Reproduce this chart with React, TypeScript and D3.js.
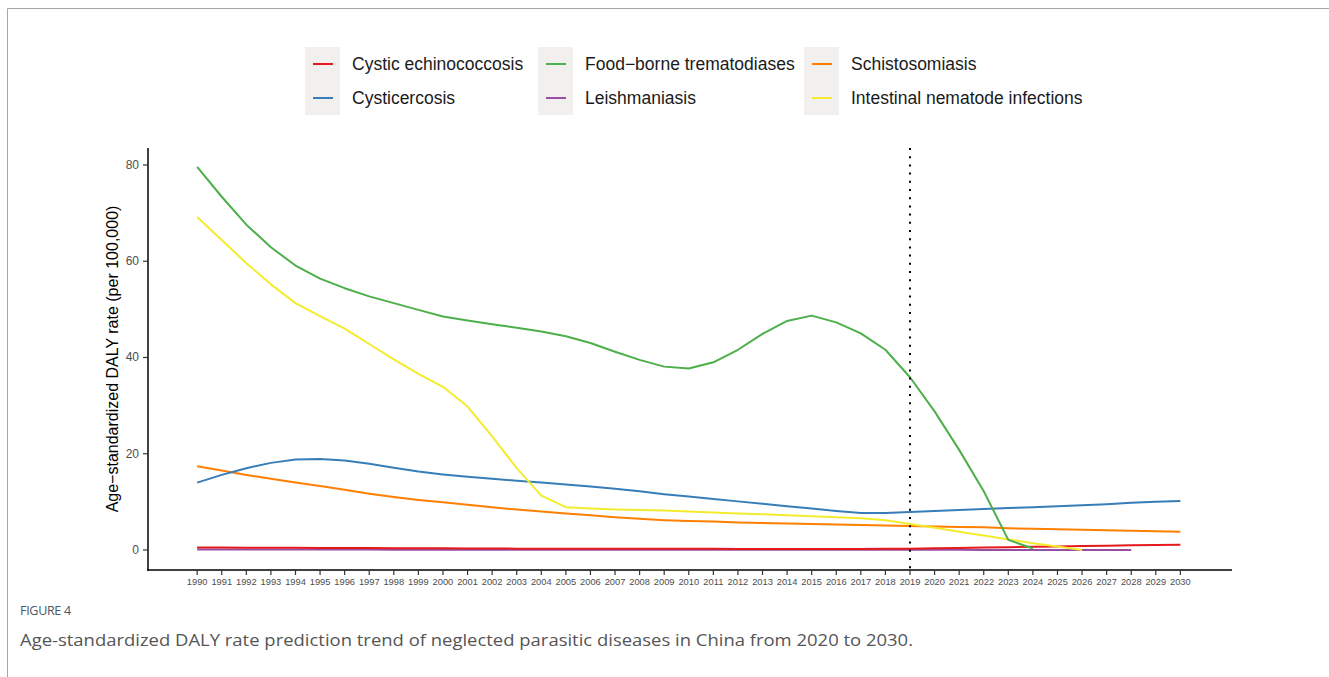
import * as d3 from 'd3';

const years = [
  1990, 1991, 1992, 1993, 1994, 1995, 1996, 1997, 1998, 1999,
  2000, 2001, 2002, 2003, 2004, 2005, 2006, 2007, 2008, 2009,
  2010, 2011, 2012, 2013, 2014, 2015, 2016, 2017, 2018, 2019,
  2020, 2021, 2022, 2023, 2024, 2025, 2026, 2027, 2028, 2029, 2030,
];

// one value per year, null = not drawn
const cysticEchinococcosis = [
  0.5, 0.5, 0.48, 0.46, 0.45, 0.43, 0.42, 0.4, 0.38, 0.36,
  0.34, 0.32, 0.3, 0.28, 0.27, 0.26, 0.25, 0.25, 0.24, 0.24,
  0.23, 0.23, 0.22, 0.22, 0.21, 0.21, 0.21, 0.22, 0.24, 0.28,
  0.34, 0.42, 0.5, 0.58, 0.66, 0.74, 0.82, 0.9, 0.97, 1.04, 1.1,
];
const cysticercosis = [
  14.0, 15.6, 17.0, 18.1, 18.8, 18.9, 18.6, 17.9, 17.1, 16.3,
  15.7, 15.2, 14.8, 14.4, 14.0, 13.6, 13.2, 12.7, 12.2, 11.6,
  11.1, 10.6, 10.1, 9.6, 9.1, 8.6, 8.1, 7.7, 7.7, 7.9,
  8.1, 8.3, 8.5, 8.7, 8.9, 9.1, 9.3, 9.5, 9.8, 10.0, 10.2,
];
const foodborne = [
  79.6, 73.4, 67.6, 62.9, 59.1, 56.4, 54.4, 52.7, 51.3, 49.9,
  48.5, 47.7, 46.9, 46.2, 45.4, 44.4, 43.0, 41.2, 39.5, 38.1,
  37.7, 39.0, 41.6, 44.9, 47.6, 48.7, 47.3, 45.0, 41.6, 35.9,
  28.8, 20.8, 12.2, 2.1, 0.3, null, null, null, null, null, null,
];
const leishmaniasis = [
  0.12, 0.11, 0.1, 0.1, 0.09, 0.09, 0.08, 0.08, 0.07, 0.07,
  0.07, 0.06, 0.06, 0.06, 0.05, 0.05, 0.05, 0.05, 0.05, 0.04,
  0.04, 0.04, 0.04, 0.04, 0.04, 0.03, 0.03, 0.03, 0.03, 0.03,
  0.03, 0.03, 0.02, 0.02, 0.02, 0.02, 0.02, 0.02, 0.02, null, null,
];
const schistosomiasis = [
  17.4, 16.5, 15.6, 14.8, 14.0, 13.3, 12.5, 11.7, 11.0, 10.4,
  9.9, 9.4, 8.9, 8.4, 8.0, 7.6, 7.2, 6.8, 6.5, 6.2,
  6.0, 5.9, 5.7, 5.6, 5.5, 5.4, 5.3, 5.2, 5.1, 5.0,
  4.9, 4.8, 4.7, 4.5, 4.4, 4.3, 4.2, 4.1, 4.0, 3.9, 3.8,
];
const intestinalNematode = [
  69.2, 64.4, 59.6, 55.2, 51.3, 48.6, 46.0, 42.8, 39.6, 36.6,
  33.9, 29.8, 23.6, 17.0, 11.3, 8.9, 8.6, 8.4, 8.3, 8.2,
  8.0, 7.8, 7.6, 7.4, 7.2, 7.0, 6.8, 6.6, 6.2, 5.4,
  4.6, 3.8, 3.0, 2.2, 1.4, 0.7, 0.0, null, null, null, null,
];

const seriesNames = [
  'Cystic echinococcosis',
  'Cysticercosis',
  'Food\u2212borne trematodiases',
  'Leishmaniasis',
  'Schistosomiasis',
  'Intestinal nematode infections',
];
const seriesValues = [
  cysticEchinococcosis,
  cysticercosis,
  foodborne,
  leishmaniasis,
  schistosomiasis,
  intestinalNematode,
];
const seriesColors = ['#E41A1C', '#377EB8', '#4DAF4A', '#984EA3', '#FF7F00', '#F5EB2E'];
// drawing order (bottom first)
const drawOrder = [3, 0, 4, 1, 5, 2];

const yTicks = [0, 20, 40, 60, 80];
const cutYear = 2019;

const W = 1329;
const H = 677;
const plot = { left: 148, right: 1232, top: 148, bottom: 570 };

export default function App() {
  const x = d3.scaleLinear().domain([1988, 2032.1]).range([plot.left, plot.right]);
  const y = d3.scaleLinear().domain([-4.16, 83.53]).range([plot.bottom, plot.top]);

  const line = d3
    .line<[number, number | null]>()
    .defined(d => d[1] !== null)
    .x(d => x(d[0]))
    .y(d => y(d[1] as number));

  const legendCols = [305, 538, 804];
  const legendRows = [64, 98];

  return (
    <div style={{ position: 'absolute', left: 0, top: 0, background: '#fff' }}>
      <svg width={W} height={H} style={{ display: 'block', fontFamily: '"Liberation Sans", Arial, sans-serif' }}>
        <rect x={0} y={0} width={W} height={H} fill="#fff" />
        {/* page frame */}
        <line x1={7.5} y1={8.5} x2={W} y2={8.5} stroke="#a6a6a6" strokeWidth={1} />
        <line x1={7.5} y1={8.5} x2={7.5} y2={H} stroke="#a6a6a6" strokeWidth={1} />

        {/* legend */}
        {seriesNames.map((name, i) => {
          const col = Math.floor(i / 2);
          const row = i % 2;
          const kx = legendCols[col];
          const ky = legendRows[row];
          return (
            <g key={name}>
              <rect x={kx} y={ky - 17} width={35} height={34} fill="#F2F0EF" />
              <line x1={kx + 8} x2={kx + 28} y1={ky} y2={ky} stroke={seriesColors[i]} strokeWidth={2} />
              <text x={kx + 47} y={ky} dominantBaseline="central" fontSize={17.5} fill="#1a1a1a">
                {name}
              </text>
            </g>
          );
        })}

        {/* series */}
        {drawOrder.map(i => (
          <path
            key={seriesNames[i]}
            d={line(years.map((yr, k) => [yr, seriesValues[i][k]] as [number, number | null])) || ''}
            fill="none"
            stroke={seriesColors[i]}
            strokeWidth={2}
            strokeLinejoin="round"
          />
        ))}

        {/* forecast cut */}
        <line
          x1={x(cutYear)}
          x2={x(cutYear)}
          y1={plot.top}
          y2={plot.bottom}
          stroke="#000"
          strokeWidth={2}
          strokeDasharray="2 6.2"
        />

        {/* y axis */}
        <line x1={plot.left} x2={plot.left} y1={plot.top} y2={plot.bottom + 0.75} stroke="#000" strokeWidth={1.5} />
        {yTicks.map(t => (
          <g key={t}>
            <line x1={plot.left - 5} x2={plot.left} y1={y(t)} y2={y(t)} stroke="#333" strokeWidth={1.2} />
            <text x={plot.left - 9} y={y(t)} textAnchor="end" dominantBaseline="central" fontSize={12} fill="#4d4d4d">
              {t}
            </text>
          </g>
        ))}
        <text
          transform={`translate(112,${(plot.top + plot.bottom) / 2}) rotate(-90)`}
          textAnchor="middle"
          dominantBaseline="central"
          fontSize={16}
          fill="#000"
        >
          Age{'\u2212'}standardized DALY rate (per 100,000)
        </text>

        {/* x axis */}
        <line x1={plot.left - 0.75} x2={plot.right} y1={plot.bottom} y2={plot.bottom} stroke="#000" strokeWidth={1.5} />
        {years.map(yr => (
          <g key={yr}>
            <line x1={x(yr)} x2={x(yr)} y1={plot.bottom} y2={plot.bottom + 5} stroke="#333" strokeWidth={1.2} />
            <text x={x(yr)} y={plot.bottom + 12} textAnchor="middle" dominantBaseline="central" fontSize={9.3} fill="#4d4d4d">
              {yr}
            </text>
          </g>
        ))}

        {/* caption */}
        <text x={20} y={615} fontSize={12.5} fill="#4a5866" style={{ fontFamily: '"Open Sans", sans-serif' }} letterSpacing={-0.3}>
          FIGURE 4
        </text>
        <text
          x={20}
          y={646}
          fontSize={17}
          fill="#555"
          textLength={893}
          lengthAdjust="spacingAndGlyphs"
          style={{ fontFamily: '"Open Sans", sans-serif' }}
        >
          Age-standardized DALY rate prediction trend of neglected parasitic diseases in China from 2020 to 2030.
        </text>
      </svg>
    </div>
  );
}
